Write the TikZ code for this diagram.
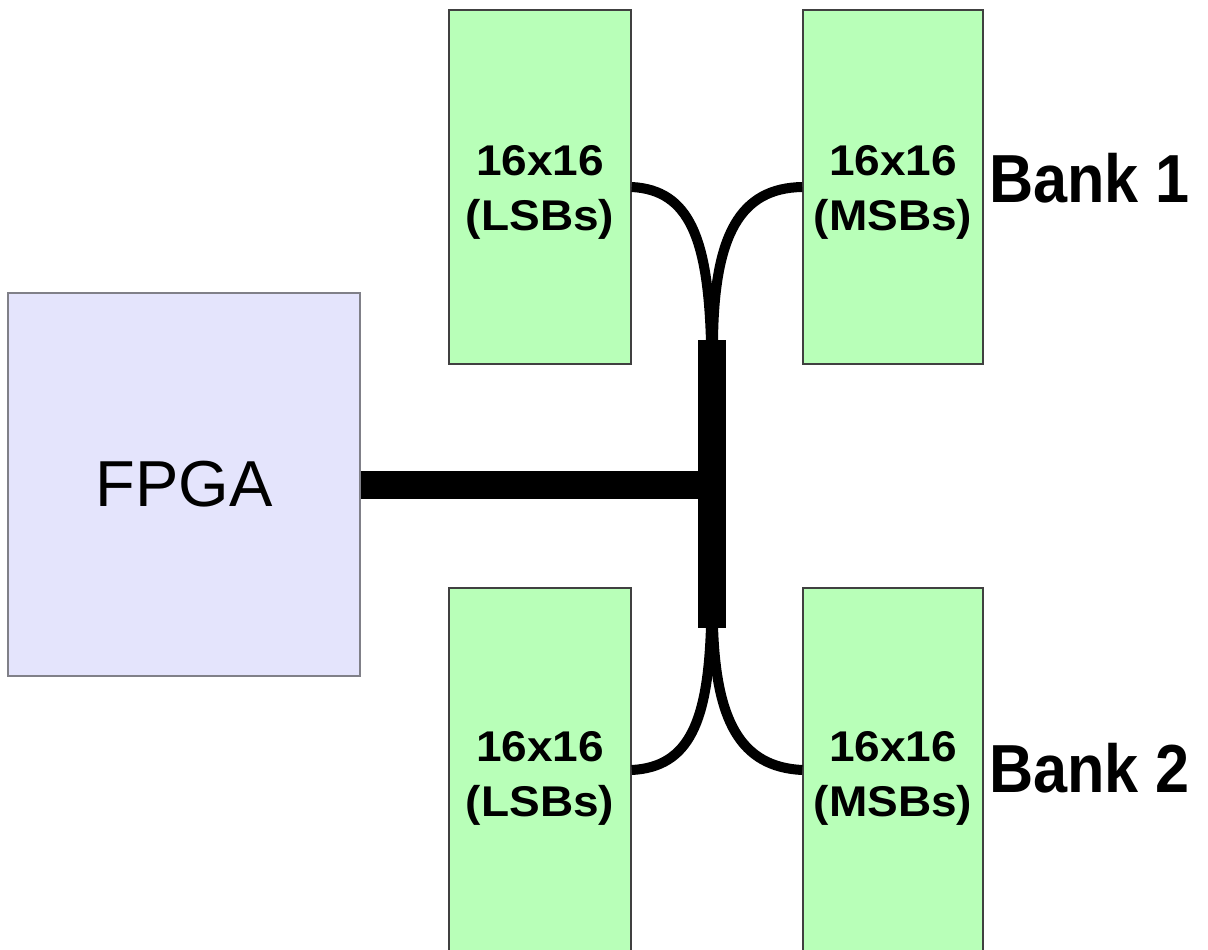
\documentclass[tikz,border=0pt]{standalone}
\usepackage{fontspec}
\setmainfont{Liberation Sans}
\newfontfamily\bankfont[FakeStretch=0.9]{Liberation Sans}
\newfontfamily\chipfont[FakeStretch=1.07]{Liberation Sans}
\usetikzlibrary{calc}
\definecolor{fpgafill}{RGB}{228,228,252}
\definecolor{fpgaedge}{RGB}{128,128,136}
\definecolor{memfill}{RGB}{184,255,184}
\definecolor{memedge}{RGB}{64,64,64}
\begin{document}
\begin{tikzpicture}[x=1pt,y=-1pt,
  fpgabox/.style={draw=fpgaedge, line width=1.5pt, fill=fpgafill,
    minimum width=352pt, minimum height=383pt, inner sep=0pt,
    font=\fontsize{65}{78}\selectfont},
  membox/.style={draw=memedge, line width=1.5pt, fill=memfill, inner sep=0pt},
  memlabel/.style={inner sep=0pt, align=center,
    font=\chipfont\bfseries\fontsize{43}{55}\selectfont},
  banklabel/.style={anchor=base west, inner sep=0pt,
    font=\bankfont\bfseries\fontsize{68}{78}\selectfont},
  bus/.style={line width=28pt},
  link/.style={line width=10pt},
]
\useasboundingbox (0,0) rectangle (1208,950);
\clip (0,0) rectangle (1208,950);

% FPGA
\node[fpgabox] (fpga) at (184,484.5) {FPGA};

% memory chips
\node[membox, minimum width=182pt, minimum height=354pt] (lsb1) at (540,187) {};
\node[membox, minimum width=180pt, minimum height=354pt] (msb1) at (893,187) {};
\node[membox, minimum width=182pt, minimum height=380pt] (lsb2) at (540,778) {};
\node[membox, minimum width=180pt, minimum height=380pt] (msb2) at (893,778) {};

\node[memlabel] (lsb1t) at ([yshift=-5pt]lsb1.center) {16x16\\(LSBs)};
\node[memlabel] (msb1t) at ([yshift=-5pt]msb1.center) {16x16\\(MSBs)};
\node[memlabel] (lsb2t) at ([yshift=0pt]lsb2.center) {16x16\\(LSBs)};
\node[memlabel] (msb2t) at ([yshift=0pt]msb2.center) {16x16\\(MSBs)};

\node[banklabel] (bank1) at (989,202) {Bank 1};
\node[banklabel] (bank2) at (989,792) {Bank 2};

% vertical bus bar
\node[fill=black, inner sep=0pt, minimum width=28pt, minimum height=288pt] (vbar) at (712,484) {};

% main bus from the FPGA
\draw[bus] (fpga.east) -- (fpga.east -| vbar.west);

% fan-out points on the bar and on the lower chips
\coordinate (tl) at ([xshift=-1pt,yshift=-2pt]vbar.north);
\coordinate (tr) at ([xshift=1pt,yshift=-2pt]vbar.north);
\coordinate (bl) at ([xshift=-1pt,yshift=2pt]vbar.south);
\coordinate (br) at ([xshift=1pt,yshift=2pt]vbar.south);
\coordinate (lsb2a) at ([yshift=8pt]lsb2.east);
\coordinate (msb2a) at ([yshift=8pt]msb2.west);

% links to the chips
\draw[link] (lsb1.east) .. controls (690,190) and (708,240) .. (tl);
\draw[link] (msb1.west) .. controls (740,188) and (714,235) .. (tr);
\draw[link] (lsb2a) .. controls (690,767) and (708,720) .. (bl);
\draw[link] (msb2a) .. controls (740,767) and (716,720) .. (br);
\end{tikzpicture}
\end{document}
